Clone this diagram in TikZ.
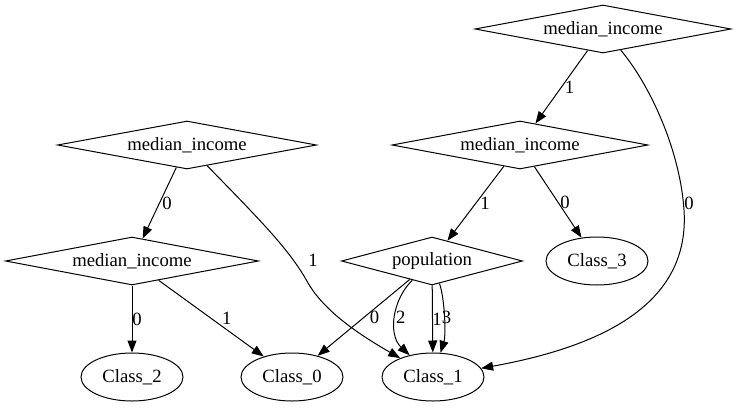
\documentclass[tikz,border=0pt]{standalone}
\usepackage{fontspec}
\setmainfont{Liberation Serif}
\usetikzlibrary{arrows.meta, shapes.geometric}

\begin{document}
\begin{tikzpicture}[x=1pt, y=-1pt, % one unit = one pixel of the tree
           > = {Triangle[length=12pt, width=9pt]},
 split/.style = {diamond, draw, line width=1pt, shape aspect=5.3,
                 minimum width=#1, minimum height=48pt,
                 inner sep=0pt, font=\fontsize{18.7pt}{22pt}\selectfont},
  leaf/.style = {ellipse, draw, line width=1pt,
                 minimum width=102pt, minimum height=48pt,
                 inner sep=0pt, font=\fontsize{18.7pt}{22pt}\selectfont},
branch/.style = {->, line width=1pt},
   lbl/.style = {inner sep=0pt, font=\fontsize{18.7pt}{22pt}\selectfont}
                    ]
	\useasboundingbox (0,0) rectangle (736,407);

	% split nodes
	\node[split=256pt] (M1) at (603,29)  {median\_income};
	\node[split=256pt] (M2) at (520,145) {median\_income};
	\node[split=259pt] (M3) at (187,145) {median\_income};
	\node[split=253pt] (M4) at (132,261) {median\_income};
	\node[split=181pt] (P)  at (432,261) {population};

	% leaves
	\node[leaf] (C3) at (597,261) {Class\_3};
	\node[leaf] (C2) at (132,377) {Class\_2};
	\node[leaf] (C0) at (292,377) {Class\_0};
	\node[leaf] (C1) at (433,377) {Class\_1};

	% bends of the two long branches
	\coordinate (j0) at (684,210);
	\coordinate (j1) at (308,283);

	% right subtree
	\draw[branch] (M1) -- node[lbl, xshift=8pt] {1} (M2);
	\draw[branch] (M1) .. controls (650,85) and (680,150) .. (j0)
	              node[lbl, xshift=5pt, yshift=7pt] {0}
	              .. controls (690,300) and (610,345) .. (C1);
	\draw[branch] (M2) -- node[lbl, xshift=9.5pt] {1} (P);
	\draw[branch] (M2) -- node[lbl, xshift=7pt] {0} (C3);

	% left subtree
	\draw[branch] (M3) -- node[lbl, xshift=7.5pt] {0} (M4);
	\draw[branch] (M3) .. controls (260,220) and (290,250) .. (j1)
	              node[lbl, xshift=5pt, yshift=23pt] {1}
	              .. controls (325,312) and (360,335) .. (C1);
	\draw[branch] (M4) -- node[lbl, xshift=5pt] {0} (C2);
	\draw[branch] (M4) -- node[lbl, xshift=15.5pt] {1} (C0);

	% population
	\draw[branch] (P) -- node[lbl, xshift=11pt] {0} (C0);
	\draw[branch] (P) .. controls (392,300) and (388,335) .. node[lbl, xshift=5.5pt] {2} (C1);
	\draw[branch] (P) -- node[lbl, xshift=4.5pt] {1} (C1);
	\draw[branch] (P) .. controls (445,300) and (446,335) .. node[lbl, xshift=2.5pt] {3} (C1);
\end{tikzpicture}
\end{document}
